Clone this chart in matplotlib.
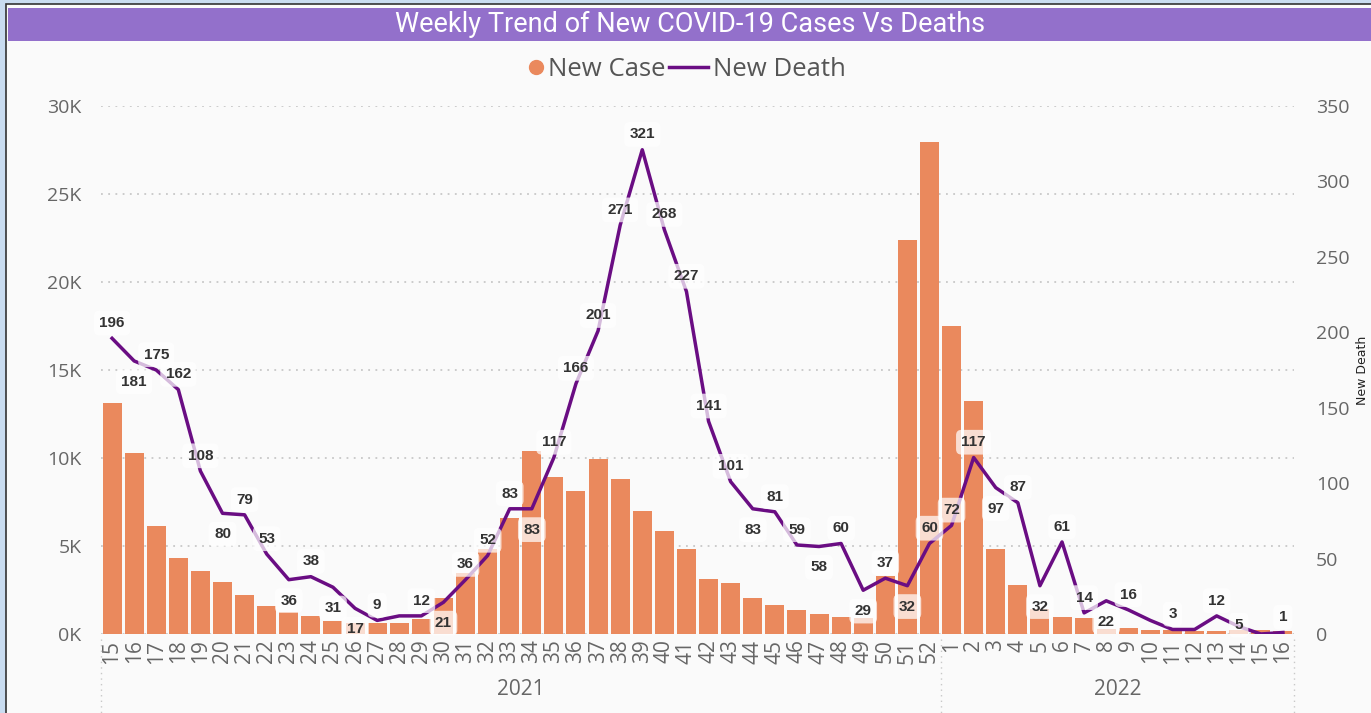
import numpy as np
import matplotlib.pyplot as plt
from matplotlib.patches import Rectangle
from matplotlib.lines import Line2D
import matplotlib.transforms as mtrans

# weeks per year
weeks_2021 = list(range(15, 53))
weeks_2022 = list(range(1, 17))

# new cases per week
cases_2021 = [13100, 10300, 6150, 4300, 3600, 2950, 2200, 1600, 1250, 1050,
              750, 650, 600, 600, 850, 2040, 3480, 4830, 6570, 10370,
              8910, 8150, 9930, 8780, 7000, 5870, 4830, 3150, 2910, 2070,
              1630, 1390, 1130, 980, 910, 3300, 22370, 27970]
cases_2022 = [17500, 13260, 4830, 2800, 1400, 970, 910, 300, 320, 250,
              210, 190, 150, 250, 250, 190]

# new deaths per week
deaths_2021 = [196, 181, 175, 162, 108, 80, 79, 53, 36, 38,
               31, 17, 9, 12, 12, 21, 36, 52, 83, 83,
               117, 166, 201, 271, 321, 268, 227, 141, 101, 83,
               81, 59, 58, 60, 29, 37, 32, 60]
deaths_2022 = [72, 117, 97, 87, 32, 61, 14, 22, 16, 9,
               3, 3, 12, 5, 0, 1]

# where the data label sits: a = above, b = below, c = on the point, '' = hidden
label_side = ['a', 'b', 'a', 'a', 'a', 'b', 'a', 'a', 'b', 'a',
              'b', 'b', 'a', '', 'a', 'b', 'a', 'a', 'a', 'b',
              'a', 'a', 'a', 'a', 'a', 'a', 'a', 'a', 'a', 'b',
              'a', 'a', 'b', 'a', 'b', 'a', 'b', 'a',
              'a', 'a', 'b', 'a', 'b', 'a', 'a', 'b', 'a', '',
              'a', '', 'a', 'c', '', 'a']

weeks = weeks_2021 + weeks_2022
cases = cases_2021 + cases_2022
deaths = deaths_2021 + deaths_2022
x = np.arange(len(weeks))

bar_col = "#EA895D"
line_col = "#6A0D83"
tick_col = "#666666"

fig = plt.figure(figsize=(13.71, 7.13), dpi=100)
fig.patch.set_facecolor("#C9DCF0")
# panel + title bar
fig.patches.append(Rectangle((6/1371, -0.01), 1.0, (713-4)/713 + 0.01, transform=fig.transFigure,
                             facecolor="#FAFAFA", edgecolor="#333333", lw=1.2, zorder=-5))
fig.patches.append(Rectangle((8/1371, 1-41/713), 1.0, 33/713, transform=fig.transFigure,
                             facecolor="#9370CB", edgecolor="none", zorder=-4))
fig.text(690/1371, 1-24/713, "Weekly Trend of New COVID-19 Cases Vs Deaths", color="white",
         fontsize=19.5, family="Roboto", ha="center", va="center")

ax = fig.add_axes([101/1371, 79/713, 1193/1371, 528/713])
ax.set_facecolor("none")
ax.bar(x, cases, width=0.86, color=bar_col, zorder=2)
ax.set_xlim(-0.5, len(weeks) - 0.5)
ax.set_ylim(0, 30000)
ax.set_yticks(np.arange(0, 30001, 5000))
ax.set_yticklabels([f"{int(v/1000)}K" for v in np.arange(0, 30001, 5000)])
ax.yaxis.grid(True, linestyle=(0, (1, 3)), color="#C8C8C8", lw=1.3)
ax.set_axisbelow(True)
ax.set_xticks(x)
ax.set_xticklabels([str(w) for w in weeks], rotation=90)
for s in ax.spines.values():
    s.set_visible(False)
ax.tick_params(axis="y", length=0, pad=14, labelsize=14, labelcolor=tick_col)
ax.tick_params(axis="x", length=0, pad=4, labelsize=15, labelcolor=tick_col)
for lab in ax.get_xticklabels() + ax.get_yticklabels():
    lab.set_family("Open Sans")

ax2 = ax.twinx()
ax2.plot(x, deaths, color=line_col, lw=2.5, zorder=3)
ax2.set_ylim(0, 350)
ax2.set_yticks(np.arange(0, 351, 50))
for s in ax2.spines.values():
    s.set_visible(False)
ax2.tick_params(axis="y", length=0, pad=16, labelsize=14, labelcolor=tick_col)
for lab in ax2.get_yticklabels():
    lab.set_family("Open Sans")
ax2.set_ylabel("New Death", fontsize=9, color="#222222", rotation=90, labelpad=4)

offsets = {'a': 11, 'b': -15, 'c': 1}
for xi, d, side in zip(x, deaths, label_side):
    if side == '':
        continue
    ax2.annotate(str(d), (xi, d), xytext=(0, offsets[side]), textcoords="offset points",
                 ha="center", va="center", fontsize=11, fontweight="bold",
                 family="Liberation Sans", color="#333333", zorder=5,
                 bbox=dict(boxstyle="round,pad=0.35", fc="white", ec="none", alpha=0.72))

# year separators and labels
trans = mtrans.blended_transform_factory(ax.transData, ax.transAxes)
n21 = len(weeks_2021)
for xs in [-0.5, n21 - 0.5, len(weeks) - 0.5]:
    ax.plot([xs, xs], [-0.01, -0.16], transform=trans, clip_on=False,
            color="#C8C8C8", lw=1, linestyle=(0, (1, 3)))
ax.text((n21 - 1) / 2, -0.105, "2021", transform=trans, ha="center", va="center",
        fontsize=15, color=tick_col, family="Open Sans")
ax.text(n21 + (len(weeks_2022) - 1) / 2, -0.105, "2022", transform=trans, ha="center",
        va="center", fontsize=15, color=tick_col, family="Open Sans")

# legend, two parts so the dot and the line can have their own widths
leg_kw = dict(ncol=1, frameon=False, prop={"family": "Open Sans", "size": 18.5},
              labelcolor="#555555", handletextpad=0.2, borderpad=0, borderaxespad=0)
leg1 = fig.legend([Line2D([], [], marker="o", color=bar_col, linestyle="none", markersize=10)],
                  ["New Case"], loc="center right", bbox_to_anchor=(666/1371, 1-69/713),
                  handlelength=0.6, **leg_kw)
leg2 = fig.legend([Line2D([], [], color=line_col, lw=2.5)], ["New Death"],
                  loc="center left", bbox_to_anchor=(669/1371, 1-69/713),
                  handlelength=1.5, **leg_kw)

fig.savefig("out.png", dpi=100, facecolor=fig.get_facecolor())
